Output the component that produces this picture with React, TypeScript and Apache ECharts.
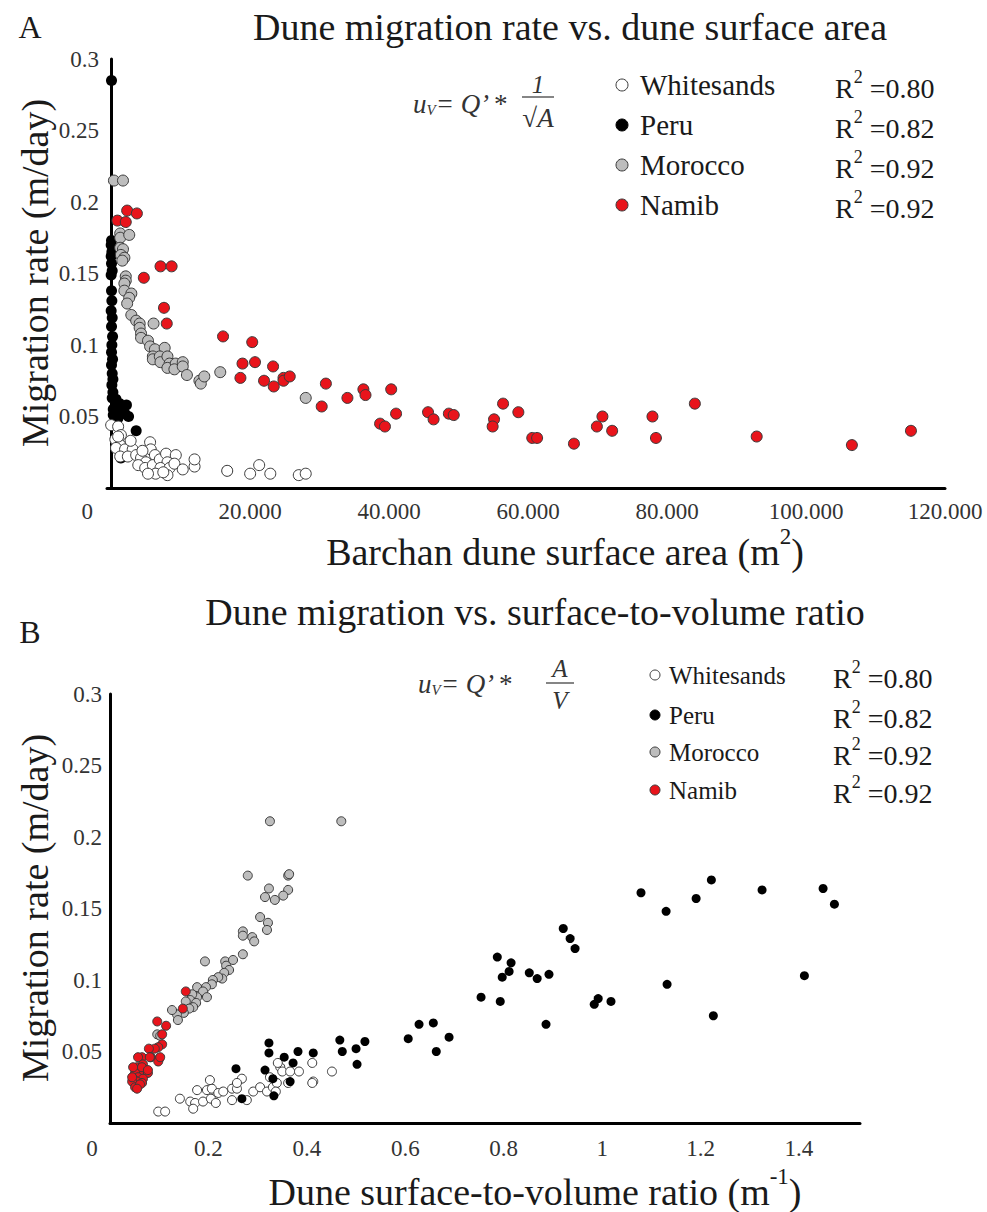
import React, { useEffect, useRef } from "react";
import * as echarts from "echarts";

// ---------- Panel A data: [surface area m², migration rate m/day] ----------
const whitesandsA: [number, number][] = [
  [0, 0.044], [1000, 0.043], [1400, 0.037], [600, 0.034], [1300, 0.030], [700, 0.028], [2000, 0.027], [3100, 0.027],
  [1300, 0.022], [2400, 0.022], [3600, 0.023], [4300, 0.021], [5600, 0.032], [5700, 0.027], [6300, 0.023], [5000, 0.018],
  [3900, 0.016], [4900, 0.014], [6000, 0.016], [7000, 0.020], [7900, 0.024], [9300, 0.023], [8100, 0.018], [7100, 0.014],
  [8400, 0.014], [9100, 0.017], [6400, 0.010], [8100, 0.009], [10300, 0.013], [12000, 0.015], [12000, 0.020], [5300, 0.010],
  [16700, 0.012], [20000, 0.010], [21300, 0.016], [22900, 0.010], [27000, 0.009], [28000, 0.010], [1000, 0.036], [2800, 0.033],
  [4500, 0.026], [7500, 0.011],
];
const peruA: [number, number][] = [
  [50, 0.285], [50, 0.173], [0, 0.170], [100, 0.165], [0, 0.162], [50, 0.157], [150, 0.152], [0, 0.149],
  [50, 0.138], [100, 0.131], [0, 0.124], [150, 0.119], [50, 0.113], [200, 0.106], [100, 0.100], [50, 0.095],
  [200, 0.090], [50, 0.086], [150, 0.080], [250, 0.076], [100, 0.072], [250, 0.067], [150, 0.063], [700, 0.062],
  [1200, 0.059], [2200, 0.058], [300, 0.055], [1400, 0.053], [2000, 0.052], [2500, 0.050], [1000, 0.049], [300, 0.051],
  [3600, 0.040], [1400, 0.021], [16700, 0.012],
];
const moroccoA: [number, number][] = [
  [400, 0.215], [1700, 0.215], [1300, 0.178], [1300, 0.175], [2600, 0.177], [1300, 0.168], [1700, 0.167], [1400, 0.163],
  [1900, 0.161], [1600, 0.159], [2100, 0.148], [2100, 0.145], [1900, 0.143], [1900, 0.138], [2900, 0.136], [2600, 0.133],
  [2300, 0.129], [2900, 0.121], [3600, 0.117], [4100, 0.115], [4100, 0.112], [4300, 0.108], [4300, 0.105], [5300, 0.103],
  [5600, 0.099], [6300, 0.097], [7700, 0.098], [6100, 0.115], [6000, 0.092], [6000, 0.090], [7000, 0.092], [7100, 0.088],
  [8100, 0.092], [8400, 0.087], [8100, 0.084], [9300, 0.087], [9100, 0.083], [10300, 0.088], [10300, 0.085], [10900, 0.079],
  [12700, 0.075], [12900, 0.073], [13400, 0.078], [15700, 0.081], [28000, 0.063],
];
const namibA: [number, number][] = [
  [2300, 0.194], [3700, 0.192], [900, 0.187], [2100, 0.186], [7100, 0.155], [8700, 0.155], [4700, 0.147], [7600, 0.126],
  [8000, 0.115], [16100, 0.106], [20300, 0.102], [18900, 0.087], [20700, 0.088], [23300, 0.085], [18600, 0.077], [22000, 0.075],
  [23400, 0.071], [24800, 0.077], [24800, 0.075], [25700, 0.078], [30900, 0.073], [30300, 0.057], [34000, 0.063], [36300, 0.069],
  [36600, 0.065], [40300, 0.069], [41000, 0.052], [38700, 0.045], [39400, 0.043], [45600, 0.053], [46400, 0.048], [48600, 0.052],
  [49300, 0.051], [56400, 0.059], [58600, 0.053], [55100, 0.048], [54900, 0.043], [60600, 0.035], [61300, 0.035], [66600, 0.031],
  [70700, 0.050], [69900, 0.043], [72100, 0.040], [77900, 0.050], [78400, 0.035], [84000, 0.059], [92900, 0.036], [106600, 0.030],
  [115100, 0.040],
];

// ---------- Panel B data: [surface-to-volume ratio 1/m, migration rate m/day] ----------
const whitesandsB: [number, number][] = [
  [0.098, 0.008], [0.112, 0.008], [0.142, 0.017], [0.163, 0.015], [0.173, 0.014], [0.169, 0.010], [0.177, 0.023], [0.189, 0.015],
  [0.197, 0.023], [0.207, 0.024], [0.205, 0.017], [0.215, 0.014], [0.220, 0.021], [0.230, 0.022], [0.203, 0.030], [0.248, 0.024],
  [0.248, 0.016], [0.258, 0.024], [0.268, 0.031], [0.258, 0.028], [0.278, 0.016], [0.291, 0.022], [0.305, 0.025], [0.319, 0.022],
  [0.331, 0.025], [0.339, 0.028], [0.337, 0.022], [0.325, 0.032], [0.346, 0.039], [0.350, 0.036], [0.341, 0.042], [0.366, 0.036],
  [0.384, 0.036], [0.411, 0.042], [0.413, 0.029], [0.411, 0.028], [0.451, 0.036], [0.362, 0.028],
];
const peruB: [number, number][] = [
  [0.256, 0.038], [0.268, 0.017], [0.315, 0.037], [0.331, 0.031], [0.333, 0.019], [0.366, 0.029], [0.354, 0.046], [0.372, 0.042],
  [0.382, 0.050], [0.413, 0.049], [0.323, 0.056], [0.323, 0.049], [0.472, 0.050], [0.467, 0.058], [0.500, 0.052], [0.518, 0.057],
  [0.502, 0.041], [0.606, 0.059], [0.628, 0.069], [0.657, 0.070], [0.663, 0.050], [0.689, 0.060], [0.754, 0.088], [0.793, 0.085],
  [0.787, 0.116], [0.797, 0.102], [0.815, 0.112], [0.811, 0.106], [0.852, 0.105], [0.868, 0.101], [0.892, 0.104], [0.886, 0.069],
  [0.921, 0.136], [0.935, 0.129], [0.945, 0.122], [0.984, 0.083], [0.992, 0.087], [1.018, 0.085], [1.079, 0.161], [1.130, 0.148],
  [1.132, 0.097], [1.191, 0.157], [1.222, 0.170], [1.226, 0.075], [1.325, 0.163], [1.411, 0.103], [1.449, 0.164], [1.472, 0.153],
];
const moroccoB: [number, number][] = [
  [0.325, 0.211], [0.470, 0.211], [0.280, 0.173], [0.323, 0.164], [0.362, 0.173], [0.364, 0.174], [0.362, 0.163], [0.352, 0.159],
  [0.335, 0.156], [0.315, 0.158], [0.305, 0.144], [0.321, 0.140], [0.319, 0.135], [0.270, 0.134], [0.270, 0.131], [0.289, 0.130],
  [0.293, 0.127], [0.270, 0.118], [0.193, 0.113], [0.234, 0.113], [0.250, 0.114], [0.236, 0.110], [0.242, 0.107], [0.232, 0.105],
  [0.228, 0.101], [0.220, 0.102], [0.209, 0.100], [0.207, 0.097], [0.195, 0.095], [0.177, 0.095], [0.189, 0.092], [0.197, 0.088],
  [0.177, 0.088], [0.167, 0.090], [0.163, 0.086], [0.175, 0.084], [0.154, 0.085], [0.169, 0.081], [0.161, 0.080], [0.150, 0.077],
  [0.136, 0.076], [0.126, 0.079], [0.138, 0.072], [0.096, 0.062], [0.102, 0.061],
];
const namibB: [number, number][] = [
  [0.154, 0.092], [0.148, 0.080], [0.096, 0.071], [0.114, 0.068], [0.106, 0.062], [0.106, 0.055], [0.098, 0.053], [0.091, 0.052],
  [0.079, 0.052], [0.083, 0.046], [0.100, 0.045], [0.098, 0.043], [0.065, 0.046], [0.057, 0.046], [0.055, 0.039], [0.067, 0.041],
  [0.071, 0.037], [0.061, 0.036], [0.051, 0.035], [0.077, 0.035], [0.057, 0.032], [0.047, 0.031], [0.067, 0.031], [0.055, 0.029],
  [0.045, 0.029], [0.065, 0.028], [0.051, 0.025], [0.061, 0.027], [0.081, 0.046], [0.102, 0.046], [0.047, 0.039], [0.065, 0.039],
  [0.077, 0.037], [0.055, 0.024], [0.045, 0.032],
];

// ---------- labels ----------
const seriesNames = ["Whitesands", "Peru", "Morocco", "Namib"];
const r2Values = ["0.80", "0.82", "0.92", "0.92"];
const xTicksA = [0, 20000, 40000, 60000, 80000, 100000, 120000];
const xTicksB = [0, 0.2, 0.4, 0.6, 0.8, 1, 1.2, 1.4];
const yTicks = [0.05, 0.1, 0.15, 0.2, 0.25, 0.3];

const FF = "Liberation Serif";
const fills = ["#ffffff", "#000000", "#bdbdbd", "#e8141b"];
const borders = ["#3a3a3a", "#000000", "#3a3a3a", "#3a3a3a"];
const INK = "#1a1a1a";

function thousands(v: number) {
  return String(v).replace(/\B(?=(\d{3})+(?!\d))/g, ".");
}

export default function App() {
  const ref = useRef<HTMLDivElement>(null);
  useEffect(() => {
    if (!ref.current) return;
    const chart = echarts.init(ref.current, undefined, { renderer: "svg" });

    const axisLineStyle = { show: true, lineStyle: { color: "#000", width: 3 } };
    const labelBase = { fontFamily: FF, fontSize: 23, color: "#333" };

    const mkSeries = (data: [number, number][], i: number, idx: number, size: number) => ({
      type: "scatter",
      name: seriesNames[i],
      xAxisIndex: idx,
      yAxisIndex: idx,
      data,
      symbol: "circle",
      symbolSize: size,
      itemStyle: { color: fills[i], borderColor: borders[i], borderWidth: i === 1 ? 0 : 1, opacity: 1 },
      emphasis: { disabled: true },
    });

    const legendGraphic = (x0: number, ys: number[], rX: number, fs: number, r: number, gap: number) => {
      const els: any[] = [];
      ys.forEach((y, i) => {
        els.push({
          type: "circle",
          shape: { cx: x0, cy: y, r },
          style: { fill: fills[i], stroke: borders[i], lineWidth: 1 },
        });
        els.push({
          type: "text",
          x: x0 + gap,
          y,
          style: { text: seriesNames[i], fontFamily: FF, fontSize: fs, fill: INK, verticalAlign: "middle", align: "left" },
        });
        els.push({
          type: "text",
          x: rX,
          y: y - 17,
          style: {
            text: `{r|R}{s|2}{r| =${r2Values[i]}}`,
            verticalAlign: "top",
            align: "left",
            rich: {
              r: { fontFamily: FF, fontSize: 28, fill: INK, verticalAlign: "bottom", lineHeight: 34 },
              s: { fontFamily: FF, fontSize: 18, fill: INK, verticalAlign: "top", lineHeight: 34 },
            },
          },
        });
      });
      return els;
    };

    const txt = (text: string, x: number, y: number, size: number, extra: any = {}) => ({
      type: "text",
      x,
      y,
      ...extra,
      style: { text, fontFamily: FF, fontSize: size, fill: INK, align: "center", verticalAlign: "middle", ...(extra.style || {}) },
    });

    const eqBase = (x: number, y: number) => ({
      type: "text",
      x,
      y,
      style: {
        text: "{u|u}{v|V}{e|= Q’ *}",
        align: "left",
        verticalAlign: "middle",
        rich: {
          u: { fontFamily: FF, fontStyle: "italic", fontSize: 27, fill: "#333" },
          v: { fontFamily: FF, fontStyle: "italic", fontSize: 15, fill: "#333", verticalAlign: "bottom", padding: [12, 0, 0, 0] },
          e: { fontFamily: FF, fontStyle: "italic", fontSize: 27, fill: "#333" },
        },
      },
    });

    const supTitle = (main: string, sup: string, x: number, y: number, extra: any = {}) => ({
      type: "text",
      x,
      y,
      ...extra,
      style: {
        text: `{t|${main}}{s|${sup}}{t|)}`,
        align: "center",
        verticalAlign: "middle",
        rich: {
          t: { fontFamily: FF, fontSize: 38, fill: INK, verticalAlign: "bottom", lineHeight: 46 },
          s: { fontFamily: FF, fontSize: 23, fill: INK, verticalAlign: "top", lineHeight: 46 },
        },
      },
    });

    const option: any = {
      animation: false,
      backgroundColor: "#fff",
      grid: [
        { left: 107, top: 59, width: 838, height: 429 },
        { left: 110, top: 694, width: 750, height: 429 },
      ],
      xAxis: [
        {
          gridIndex: 0,
          type: "value",
          min: -600,
          max: 120000,
          axisLine: axisLineStyle,
          axisTick: { show: false },
          splitLine: { show: false },
          axisLabel: {
            ...labelBase,
            customValues: xTicksA,
            showMinLabel: true,
            showMaxLabel: true,
            margin: 12,
            formatter: (v: number) => (v === 0 ? "{z|0}" : thousands(v)),
            rich: { z: { ...labelBase, padding: [0, 48, 0, 0] } },
          },
        },
        {
          gridIndex: 1,
          type: "value",
          min: 0,
          max: 1.524,
          axisLine: axisLineStyle,
          axisTick: { show: false },
          splitLine: { show: false },
          axisLabel: {
            ...labelBase,
            customValues: xTicksB,
            margin: 14,
            formatter: (v: number) => (v === 0 ? "{z|0}" : String(v)),
            rich: { z: { ...labelBase, padding: [0, 36, 0, 0] } },
          },
        },
      ],
      yAxis: [0, 1].map((g) => ({
        gridIndex: g,
        type: "value",
        min: 0,
        max: 0.3,
        interval: 0.05,
        axisLine: axisLineStyle,
        axisTick: { show: false },
        splitLine: { show: false },
        axisLabel: {
          ...labelBase,
          customValues: yTicks,
          margin: 8,
          formatter: (v: number) => String(Math.round(v * 100) / 100),
        },
      })),
      series: [
        mkSeries(peruA, 1, 0, 11),
        mkSeries(whitesandsA, 0, 0, 11),
        mkSeries(moroccoA, 2, 0, 11),
        mkSeries(namibA, 3, 0, 11),
        mkSeries(whitesandsB, 0, 1, 9),
        mkSeries(peruB, 1, 1, 9),
        mkSeries(moroccoB, 2, 1, 9),
        mkSeries(namibB, 3, 1, 9),
      ],
      graphic: [
        txt("A", 30, 27, 32),
        txt("Dune migration rate vs. dune surface area", 570, 27, 38),
        txt("Migration rate (m/day)", 35, 273, 38, { rotation: Math.PI / 2 }),
        supTitle("Barchan dune surface area (m", "2", 565, 548),
        eqBase(413, 104),
        txt("1", 538, 84, 25, { style: { fontStyle: "italic", fill: "#333" } }),
        { type: "line", shape: { x1: 522, y1: 97, x2: 554, y2: 97 }, style: { stroke: "#333", lineWidth: 1.2 } },
        txt("√A", 538, 118, 27, { style: { fontStyle: "italic", fill: "#333" } }),
        ...legendGraphic(622, [85, 125, 165, 205], 835, 29, 6, 18),

        txt("B", 30, 632, 32),
        txt("Dune migration vs. surface-to-volume ratio", 535, 612, 38),
        txt("Migration rate (m/day)", 35, 908, 38, { rotation: Math.PI / 2 }),
        supTitle("Dune surface-to-volume ratio (m", "-1", 535, 1188),
        eqBase(418, 684),
        txt("A", 560, 668, 25, { style: { fontStyle: "italic", fill: "#333" } }),
        { type: "line", shape: { x1: 546, y1: 683, x2: 574, y2: 683 }, style: { stroke: "#333", lineWidth: 1.2 } },
        txt("V", 560, 700, 25, { style: { fontStyle: "italic", fill: "#333" } }),
        ...legendGraphic(655, [675, 715, 752, 790], 833, 25, 5, 14),
      ],
    };
    chart.setOption(option);
    return () => chart.dispose();
  }, []);
  return <div ref={ref} style={{ position: "absolute", left: 0, top: 0, width: 987, height: 1212 }} />;
}
